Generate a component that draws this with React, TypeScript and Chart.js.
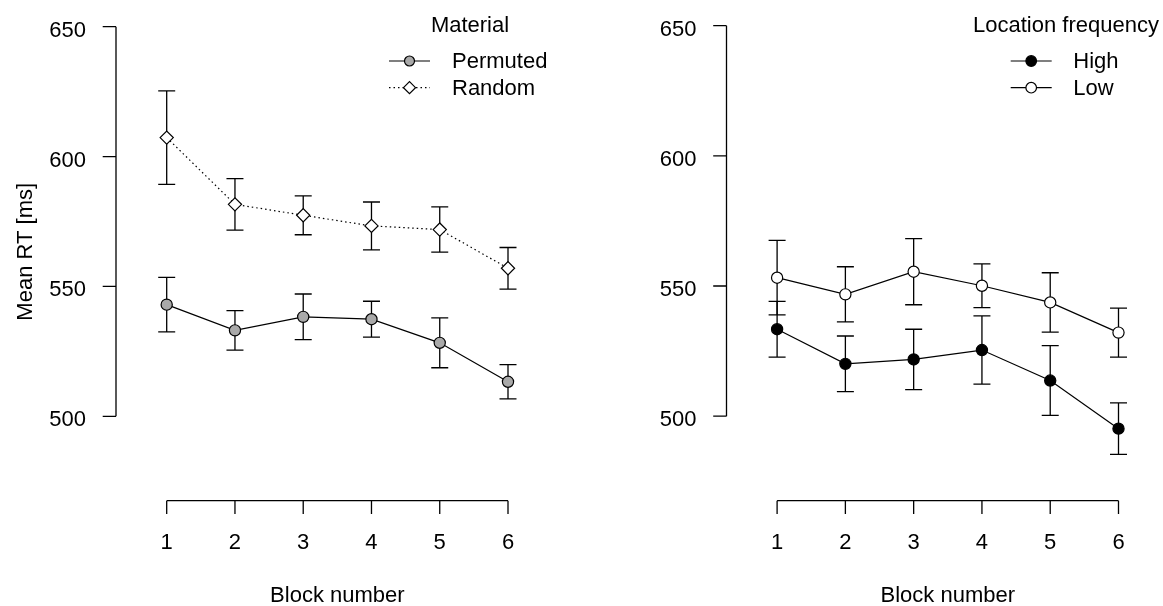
import React, { useEffect, useRef } from "react";
import { Chart, registerables } from "chart.js";

Chart.register(...registerables);

// ---------- data ----------
const blocks = [1, 2, 3, 4, 5, 6];
const yTickValues = [500, 550, 600, 650];

const permutedMean = [543.0, 533.1, 538.3, 537.4, 528.3, 513.3];
const permutedErr = [10.5, 7.6, 8.8, 6.9, 9.6, 6.6];
const randomMean = [607.3, 581.6, 577.4, 573.3, 571.9, 557.0];
const randomErr = [18.0, 9.9, 7.5, 9.2, 8.7, 8.0];

const highMean = [533.4, 520.1, 521.8, 525.4, 513.7, 495.2];
const highErr = [10.7, 10.7, 11.6, 13.1, 13.4, 9.9];
const lowMean = [553.2, 546.8, 555.5, 550.1, 543.7, 532.1];
const lowErr = [14.3, 10.6, 12.7, 8.4, 11.4, 9.4];

const xTitle = "Block number";
const yTitle = "Mean RT [ms]";

// ---------- styles ----------
const FONT_FAMILY = '"Liberation Sans", Arial, Helvetica, sans-serif';
const FS = 22;
const W = 1163;
const H = 606;

type Series = {
  label: string;
  mean: number[];
  err: number[];
  fill: string;
  style: "circle" | "rectRot";
  radius: number;
  legendRadius: number;
  dash: number[];
};

type PanelSpec = {
  offset: number;
  width: number;
  axisLeft: number;
  axisBottom: number;
  x1: number;
  x6: number;
  y500: number;
  y650: number;
  yTitle?: string;
  yTitleCenterY: number;
  legendTitle: string;
  legendTitleX: number;
  legendLine0: number;
  legendLine1: number;
  legendTextX: number;
  series: Series[];
};

const leftSpec: PanelSpec = {
  offset: 0,
  width: 581,
  axisLeft: 116,
  axisBottom: 500.7,
  x1: 166.7,
  x6: 508,
  y500: 415.7,
  y650: 23,
  yTitle: yTitle,
  yTitleCenterY: 251.8,
  legendTitle: "Material",
  legendTitleX: 470,
  legendLine0: 389,
  legendLine1: 430,
  legendTextX: 452,
  series: [
    { label: "Permuted", mean: permutedMean, err: permutedErr, fill: "#a9a9a9", style: "circle", radius: 5.6, legendRadius: 5, dash: [] },
    { label: "Random", mean: randomMean, err: randomErr, fill: "#ffffff", style: "rectRot", radius: 6.6, legendRadius: 6, dash: [1.5, 3] },
  ],
};

const rightSpec: PanelSpec = {
  offset: 581,
  width: 582,
  axisLeft: 726.5,
  axisBottom: 500.7,
  x1: 777.1,
  x6: 1118.5,
  y500: 415.7,
  y650: 23,
  yTitleCenterY: 251.8,
  legendTitle: "Location frequency",
  legendTitleX: 1066,
  legendLine0: 1010.7,
  legendLine1: 1051.7,
  legendTextX: 1073.3,
  series: [
    { label: "High", mean: highMean, err: highErr, fill: "#000000", style: "circle", radius: 5.6, legendRadius: 5.3, dash: [] },
    { label: "Low", mean: lowMean, err: lowErr, fill: "#ffffff", style: "circle", radius: 5.6, legendRadius: 5.3, dash: [] },
  ],
};

function makePlugin(spec: PanelSpec) {
  const cap = 8.5;
  return {
    id: "rplot",
    beforeDatasetsDraw(chart: any) {
      const ctx = chart.ctx as CanvasRenderingContext2D;
      const xs = chart.scales.x;
      const ys = chart.scales.y;
      ctx.save();
      ctx.strokeStyle = "#000";
      ctx.lineWidth = 1.3;
      spec.series.forEach((s) => {
        s.mean.forEach((m, i) => {
          const x = xs.getPixelForValue(blocks[i]);
          const yt = ys.getPixelForValue(m + s.err[i]);
          const yb = ys.getPixelForValue(m - s.err[i]);
          ctx.beginPath();
          ctx.moveTo(x, yt);
          ctx.lineTo(x, yb);
          ctx.moveTo(x - cap, yt);
          ctx.lineTo(x + cap, yt);
          ctx.moveTo(x - cap, yb);
          ctx.lineTo(x + cap, yb);
          ctx.stroke();
        });
      });
      ctx.restore();
    },
    afterDraw(chart: any) {
      const ctx = chart.ctx as CanvasRenderingContext2D;
      const xs = chart.scales.x;
      const ys = chart.scales.y;
      const area = chart.chartArea;
      const off = spec.offset;
      ctx.save();
      ctx.strokeStyle = "#000";
      ctx.fillStyle = "#000";
      ctx.lineWidth = 1.3;
      ctx.font = `${FS}px ${FONT_FAMILY}`;

      // y axis
      const yTop = ys.getPixelForValue(yTickValues[yTickValues.length - 1]);
      const yBot = ys.getPixelForValue(yTickValues[0]);
      ctx.beginPath();
      ctx.moveTo(area.left, yTop);
      ctx.lineTo(area.left, yBot);
      yTickValues.forEach((v) => {
        const y = ys.getPixelForValue(v);
        ctx.moveTo(area.left - 13.3, y);
        ctx.lineTo(area.left, y);
      });
      ctx.stroke();
      ctx.textAlign = "right";
      ctx.textBaseline = "alphabetic";
      yTickValues.forEach((v) => {
        const y = ys.getPixelForValue(v);
        ctx.fillText(String(v), area.left - 30, y + 10);
      });

      // x axis
      const xL = xs.getPixelForValue(blocks[0]);
      const xR = xs.getPixelForValue(blocks[blocks.length - 1]);
      ctx.beginPath();
      ctx.moveTo(xL, area.bottom);
      ctx.lineTo(xR, area.bottom);
      blocks.forEach((b) => {
        const x = xs.getPixelForValue(b);
        ctx.moveTo(x, area.bottom);
        ctx.lineTo(x, area.bottom + 13.3);
      });
      ctx.stroke();
      ctx.textAlign = "center";
      blocks.forEach((b) => {
        const x = xs.getPixelForValue(b);
        ctx.fillText(String(b), x, area.bottom + 48.3);
      });
      ctx.fillText(xTitle, (xL + xR) / 2, area.bottom + 100.8);

      // y title
      if (spec.yTitle) {
        ctx.save();
        ctx.translate(31.7 - off, spec.yTitleCenterY);
        ctx.rotate(-Math.PI / 2);
        ctx.textAlign = "center";
        ctx.fillText(spec.yTitle, 0, 0);
        ctx.restore();
      }

      // legend
      ctx.textAlign = "center";
      ctx.fillText(spec.legendTitle, spec.legendTitleX - off, 31.7);
      const rowBaselines = [68.3, 95];
      spec.series.forEach((s, i) => {
        const base = rowBaselines[i];
        const sy = base - 7.3;
        ctx.save();
        ctx.lineWidth = 1.2;
        ctx.setLineDash(s.dash);
        ctx.beginPath();
        ctx.moveTo(spec.legendLine0 - off, sy);
        ctx.lineTo(spec.legendLine1 - off, sy);
        ctx.stroke();
        ctx.setLineDash([]);
        const px = (spec.legendLine0 + spec.legendLine1) / 2 - off;
        ctx.beginPath();
        if (s.style === "circle") {
          ctx.arc(px, sy, s.legendRadius, 0, Math.PI * 2);
        } else {
          const r = s.legendRadius;
          ctx.moveTo(px - r, sy);
          ctx.lineTo(px, sy - r);
          ctx.lineTo(px + r, sy);
          ctx.lineTo(px, sy + r);
          ctx.closePath();
        }
        ctx.fillStyle = s.fill;
        ctx.fill();
        ctx.stroke();
        ctx.restore();
        ctx.textAlign = "left";
        ctx.fillStyle = "#000";
        ctx.fillText(s.label, spec.legendTextX - off, base);
      });
      ctx.restore();
    },
  };
}

function Panel({ spec }: { spec: PanelSpec }) {
  const ref = useRef<HTMLCanvasElement | null>(null);
  useEffect(() => {
    const canvas = ref.current;
    if (!canvas) return;
    const left = spec.axisLeft - spec.offset;
    const bottom = spec.axisBottom;
    const right = spec.x6 - spec.offset + 25;
    const top = 4;
    const pxX = (spec.x6 - spec.x1) / 5;
    const pxY = (spec.y500 - spec.y650) / 150;
    const xmin = 1 - (spec.x1 - spec.axisLeft) / pxX;
    const xmax = 6 + 25 / pxX;
    const ymin = 500 - (spec.axisBottom - spec.y500) / pxY;
    const ymax = 650 + (spec.y650 - top) / pxY;

    const datasets = spec.series.map((s) => ({
      label: s.label,
      data: blocks.map((b, i) => ({ x: b, y: s.mean[i] })),
      borderColor: "#000",
      borderWidth: 1.2,
      borderDash: s.dash,
      pointStyle: s.style,
      pointRadius: s.radius,
      pointBackgroundColor: s.fill,
      pointBorderColor: "#000",
      pointBorderWidth: 1.2,
      tension: 0,
      fill: false,
      clip: false as any,
    }));

    const chart = new Chart(canvas, {
      type: "line",
      data: { datasets },
      options: {
        animation: false,
        responsive: false,
        maintainAspectRatio: false,
        devicePixelRatio: 1,
        layout: {
          padding: { left, right: spec.width - right, top, bottom: H - bottom },
        },
        plugins: { legend: { display: false }, tooltip: { enabled: false }, title: { display: false } },
        scales: {
          x: { type: "linear", min: xmin, max: xmax, display: false },
          y: { type: "linear", min: ymin, max: ymax, display: false },
        },
      },
      plugins: [makePlugin(spec)],
    });
    return () => chart.destroy();
  }, [spec]);
  return (
    <canvas
      ref={ref}
      width={spec.width}
      height={H}
      style={{ position: "absolute", left: spec.offset, top: 0, width: spec.width, height: H }}
    />
  );
}

export default function App() {
  return (
    <div style={{ position: "fixed", left: 0, top: 0, width: W, height: H, background: "#fff", overflow: "hidden" }}>
      <Panel spec={leftSpec} />
      <Panel spec={rightSpec} />
    </div>
  );
}
